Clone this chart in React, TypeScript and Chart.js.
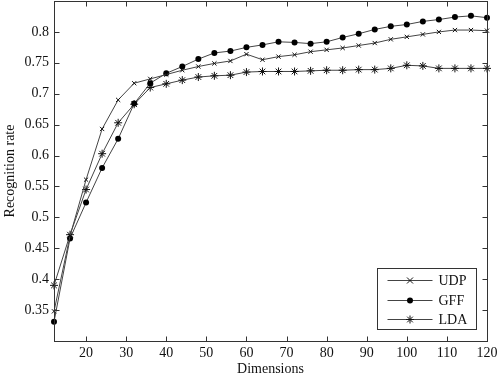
import React, { useEffect, useRef } from 'react';
import { Chart, registerables } from 'chart.js';

Chart.register(...registerables);

const dimensions = [12, 16, 20, 24, 28, 32, 36, 40, 44, 48, 52, 56, 60, 64, 68, 72, 76, 80, 84, 88, 92, 96, 100, 104, 108, 112, 116, 120];
const udp = [0.348, 0.47, 0.561, 0.643, 0.69, 0.717, 0.724, 0.731, 0.738, 0.744, 0.749, 0.753, 0.764, 0.755, 0.76, 0.763, 0.768, 0.771, 0.774, 0.778, 0.782, 0.788, 0.792, 0.796, 0.8, 0.803, 0.803, 0.802];
const gff = [0.331, 0.466, 0.524, 0.58, 0.627, 0.684, 0.717, 0.733, 0.744, 0.756, 0.766, 0.769, 0.775, 0.779, 0.784, 0.783, 0.781, 0.784, 0.791, 0.797, 0.804, 0.809, 0.812, 0.817, 0.82, 0.824, 0.826, 0.823];
const lda = [0.39, 0.472, 0.545, 0.603, 0.653, 0.683, 0.71, 0.716, 0.722, 0.727, 0.729, 0.73, 0.735, 0.736, 0.736, 0.736, 0.737, 0.738, 0.738, 0.739, 0.739, 0.741, 0.746, 0.745, 0.741, 0.741, 0.741, 0.741];
const seriesLabels = ['UDP', 'GFF', 'LDA'];
const xTickValues = [20, 30, 40, 50, 60, 70, 80, 90, 100, 110, 120];
const yTickValues = [0.35, 0.4, 0.45, 0.5, 0.55, 0.6, 0.65, 0.7, 0.75, 0.8];

const FONT = "'Liberation Serif', 'DejaVu Serif', serif";
const AXIS = '#333';
const LINE = '#444';

function drawMarker(ctx: CanvasRenderingContext2D, style: string, x: number, y: number, r: number) {
  ctx.save();
  ctx.strokeStyle = '#111';
  ctx.fillStyle = '#000';
  ctx.lineWidth = 1;
  ctx.beginPath();
  if (style === 'circle') {
    ctx.arc(x, y, r, 0, Math.PI * 2);
    ctx.fill();
  } else if (style === 'crossRot') {
    ctx.moveTo(x - r, y - r); ctx.lineTo(x + r, y + r);
    ctx.moveTo(x - r, y + r); ctx.lineTo(x + r, y - r);
    ctx.stroke();
  } else {
    const d = r * 0.7071;
    ctx.moveTo(x - r, y); ctx.lineTo(x + r, y);
    ctx.moveTo(x, y - r); ctx.lineTo(x, y + r);
    ctx.moveTo(x - d, y - d); ctx.lineTo(x + d, y + d);
    ctx.moveTo(x - d, y + d); ctx.lineTo(x + d, y - d);
    ctx.stroke();
  }
  ctx.restore();
}

const frameTicks = {
  id: 'frameTicks',
  afterDatasetsDraw(chart: any) {
    const { ctx, chartArea: a, scales } = chart;
    const L = Math.round(a.left) + 0.5, R = Math.round(a.right) + 0.5;
    const T = Math.round(a.top) + 0.5, B = Math.round(a.bottom) + 0.5;
    ctx.save();
    ctx.strokeStyle = AXIS;
    ctx.lineWidth = 1;
    ctx.strokeRect(L, T, R - L, B - T);
    ctx.beginPath();
    for (const v of xTickValues) {
      const px = Math.round(scales.x.getPixelForValue(v)) + 0.5;
      ctx.moveTo(px, B); ctx.lineTo(px, B - 5);
      ctx.moveTo(px, T); ctx.lineTo(px, T + 5);
    }
    for (const v of yTickValues) {
      const py = Math.round(scales.y.getPixelForValue(v)) + 0.5;
      ctx.moveTo(L, py); ctx.lineTo(L + 5, py);
      ctx.moveTo(R, py); ctx.lineTo(R - 5, py);
    }
    ctx.stroke();

    // legend box inside plot
    const styles = ['crossRot', 'circle', 'star'];
    const radii = [3, 3, 4];
    const bw = 99, bh = 61;
    const bx = Math.round(a.right - 11 - bw) + 0.5;
    const by = Math.round(a.bottom - 12 - bh) + 0.5;
    ctx.fillStyle = '#fff';
    ctx.fillRect(bx, by, bw, bh);
    ctx.strokeStyle = AXIS;
    ctx.strokeRect(bx, by, bw, bh);
    ctx.font = `14px ${FONT}`;
    ctx.textBaseline = 'middle';
    ctx.textAlign = 'left';
    seriesLabels.forEach((lab, i) => {
      const yy = Math.round(by + 11.5 + i * 19.5) + 0.5;
      ctx.strokeStyle = LINE;
      ctx.beginPath();
      ctx.moveTo(bx + 10, yy); ctx.lineTo(bx + 55, yy);
      ctx.stroke();
      drawMarker(ctx, styles[i], bx + 32.5, yy, radii[i]);
      ctx.fillStyle = '#111';
      ctx.fillText(lab, bx + 61, yy + 1);
    });
    ctx.restore();
  },
};

export default function App() {
  const ref = useRef<HTMLCanvasElement | null>(null);
  useEffect(() => {
    document.body.style.margin = '0';
    if (!ref.current) return;
    const mk = (vals: number[]) => dimensions.map((d, i) => ({ x: d, y: vals[i] }));
    const common = { borderColor: LINE, borderWidth: 1, pointBorderColor: '#111', pointBackgroundColor: '#000', pointBorderWidth: 1, clip: false as any, tension: 0 };
    const chart = new Chart(ref.current, {
      type: 'line',
      data: {
        datasets: [
          { ...common, label: seriesLabels[0], data: mk(udp), pointStyle: 'crossRot', pointRadius: 3 },
          { ...common, label: seriesLabels[1], data: mk(gff), pointStyle: 'circle', pointRadius: 3, pointBorderWidth: 0 },
          { ...common, label: seriesLabels[2], data: mk(lda), pointStyle: 'star', pointRadius: 4 },
        ],
      },
      options: {
        animation: false,
        responsive: false,
        events: [],
        layout: { autoPadding: false, padding: { top: 1, right: 13, left: 0, bottom: 0 } },
        plugins: { legend: { display: false }, tooltip: { enabled: false } },
        scales: {
          x: {
            type: 'linear',
            min: 12,
            max: 120,
            afterBuildTicks: (s: any) => { s.ticks = xTickValues.map((v) => ({ value: v })); },
            afterFit: (s: any) => { s.height = 37; s.paddingLeft = 0; s.paddingRight = 0; s.paddingTop = 0; s.paddingBottom = 0; },
            grid: { display: false, drawTicks: false },
            border: { display: false },
            ticks: { color: '#111', font: { family: FONT, size: 14 }, padding: 4, maxRotation: 0, autoSkip: false },
            title: { display: true, text: 'Dimensions', color: '#111', font: { family: FONT, size: 14 }, padding: { top: 0, bottom: 0 } },
          },
          y: {
            type: 'linear',
            min: 0.3,
            max: 0.85,
            afterBuildTicks: (s: any) => { s.ticks = yTickValues.map((v) => ({ value: v })); },
            afterFit: (s: any) => { s.width = 54; s.paddingLeft = 0; s.paddingRight = 0; s.paddingTop = 0; s.paddingBottom = 0; },
            grid: { display: false, drawTicks: false },
            border: { display: false },
            ticks: { color: '#111', font: { family: FONT, size: 14 }, padding: 5, autoSkip: false, callback: (v: any) => String(Number(v)) },
            title: { display: true, text: 'Recognition rate', color: '#111', font: { family: FONT, size: 14 }, padding: { top: 1.5, bottom: 0 } },
          },
        },
      },
      plugins: [frameTicks],
    });
    return () => chart.destroy();
  }, []);
  return (
    <div style={{ position: 'absolute', left: 0, top: 0, width: 500, height: 378, background: '#fff' }}>
      <canvas ref={ref} width={500} height={378} style={{ display: 'block' }} />
    </div>
  );
}
